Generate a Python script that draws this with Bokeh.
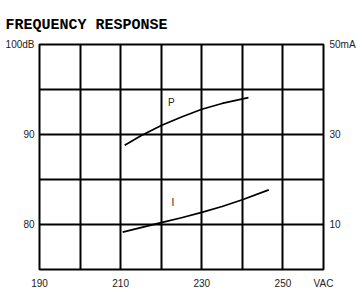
from bokeh.plotting import figure
from bokeh.models import Range1d, LinearAxis, FixedTicker, Grid
from bokeh.core.properties import value
from bokeh.embed import file_html
from bokeh.resources import INLINE
import numpy as np

title_text = "FREQUENCY RESPONSE"

x_ticks = [190, 210, 230, 250, 260]
x_labels = ["190", "210", "230", "250", "VAC"]
db_ticks = [100, 90, 80]
db_labels = ["100dB", "90", "80"]
ma_ticks = [50, 30, 10]
ma_labels = ["50mA", "30", "10"]

p_volts = [211, 215, 220, 225, 230, 235, 241.5]
p_db = [88.8, 89.85, 91.0, 91.95, 92.8, 93.45, 94.1]
i_volts = [210.5, 215, 220, 225, 230, 235, 240, 246.5]
i_ma = [8.3, 9.3, 10.4, 11.5, 12.7, 14.0, 15.5, 17.7]

curve_names = ["P", "I"]
curve_label_x = [222.5, 222.9]
curve_label_y = [93.6, 14.9]

p = figure(width=363, height=292, x_range=Range1d(190, 260), y_range=Range1d(75, 100),
           output_backend="svg", toolbar_location=None,
           min_border_left=39, min_border_right=40, min_border_top=44, min_border_bottom=23,
           x_axis_location=None, y_axis_location=None)
p.extra_y_ranges = {"ma": Range1d(0, 50)}
p.background_fill_color = "white"
p.border_fill_color = "white"
p.outline_line_color = "black"
p.outline_line_width = 2
p.xgrid.visible = False
p.ygrid.visible = False

p.add_layout(Grid(dimension=0, ticker=FixedTicker(ticks=list(np.arange(190, 261, 10))),
                  grid_line_color="black", grid_line_width=2))
p.add_layout(Grid(dimension=1, ticker=FixedTicker(ticks=list(np.arange(75, 101, 5))),
                  grid_line_color="black", grid_line_width=2))

def style(ax, standoff):
    ax.axis_line_color = None
    ax.major_tick_line_color = None
    ax.minor_tick_line_color = None
    ax.major_tick_out = 0
    ax.major_tick_in = 0
    ax.major_label_standoff = standoff
    ax.major_label_text_font = "Liberation Sans"
    ax.major_label_text_font_size = "10px"
    ax.major_label_text_color = "#222222"

bx = LinearAxis(ticker=FixedTicker(ticks=x_ticks),
                major_label_overrides={t: l for t, l in zip(x_ticks, x_labels)})
style(bx, 8)
p.add_layout(bx, "below")

ly = LinearAxis(ticker=FixedTicker(ticks=db_ticks),
                major_label_overrides={t: l for t, l in zip(db_ticks, db_labels)})
style(ly, 5)
p.add_layout(ly, "left")

ry = LinearAxis(y_range_name="ma", ticker=FixedTicker(ticks=ma_ticks),
                major_label_overrides={t: l for t, l in zip(ma_ticks, ma_labels)})
style(ry, 6)
p.add_layout(ry, "right")

p.line(p_volts, p_db, line_color="black", line_width=1.7, line_join="round")
p.line(i_volts, i_ma, line_color="black", line_width=1.7, line_join="round", y_range_name="ma")

p.text(x=[curve_label_x[0]], y=[curve_label_y[0]], text=[curve_names[0]],
       text_font=value("Liberation Sans"), text_font_size="10px", text_color="#222222",
       text_align="center", text_baseline="middle")
p.text(x=[curve_label_x[1]], y=[curve_label_y[1]], text=[curve_names[1]],
       text_font=value("Liberation Sans"), text_font_size="10px", text_color="#222222",
       text_align="center", text_baseline="middle", y_range_name="ma")

p.title.text = title_text
p.title.text_font = "Liberation Mono"
p.title.text_font_style = "bold"
p.title.text_font_size = "15px"
p.title.text_color = "black"
p.title.offset = -34
p.title.standoff = 22

open("out.html", "w").write(file_html(p, INLINE))
